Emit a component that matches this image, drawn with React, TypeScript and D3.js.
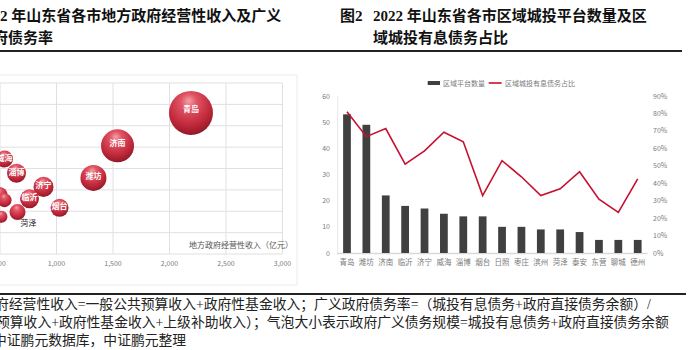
import React, { useEffect } from "react";
import * as d3 from "d3";

// ---------- Left chart data (bubble) ----------
const bubbleCities = ["青岛", "济南", "潍坊", "淄博", "威海", "济宁", "临沂", "烟台", "菏泽", "东营", "日照", "泰安"];
const bubbleRevenue = [2190, 1540, 1327, 646, 540, 885, 761, 1027, 655, 540, 496, 513];
const bubbleDebtRate = [330, 253, 178, 189, 222, 157, 129, 108, 98, 126, 138, 87];
const bubbleDebtScale = [7000, 3940, 2440, 1300, 1045, 1450, 1300, 1170, 930, 710, 930, 520];
const bubbleLabelInside = [true, true, true, true, true, true, true, true, false, false, false, false];
const bubbleLabelBelow = [false, false, false, false, false, false, false, false, true, false, false, false];
const xTicksLeft = [0, 500, 1000, 1500, 2000, 2500, 3000];
const yTicksLeft = [0, 50, 100, 150, 200, 250, 300, 350, 400];

// ---------- Right chart data (bar + line) ----------
const barCities = ["青岛", "潍坊", "济南", "临沂", "济宁", "威海", "淄博", "烟台", "日照", "枣庄", "滨州", "菏泽", "泰安", "东营", "聊城", "德州"];
const platformCount = [53, 49, 22, 18, 17, 15, 14, 14, 10, 10, 9, 9, 8, 5, 5, 5];
const debtShare = [0.81, 0.667, 0.713, 0.509, 0.585, 0.692, 0.638, 0.329, 0.529, 0.437, 0.329, 0.368, 0.466, 0.308, 0.233, 0.425];
const yTicksRightCount = [0, 10, 20, 30, 40, 50, 60];
const yTicksRightPct = [0, 0.1, 0.2, 0.3, 0.4, 0.5, 0.6, 0.7, 0.8, 0.9];

const titleLeft1 = "2 年山东省各市地方政府经营性收入及广义";
const titleLeft2 = "政府债务率";
const titleRightNo = "图2";
const titleRight1 = "2022 年山东省各市区域城投平台数量及区";
const titleRight2 = "域城投有息债务占比";
const noteLines = [
  "府经营性收入=一般公共预算收入+政府性基金收入；广义政府债务率=（城投有息债务+政府直接债务余额）/",
  "预算收入+政府性基金收入+上级补助收入）；气泡大小表示政府广义债务规模=城投有息债务+政府直接债务余额",
  "中证鹏元数据库，中证鹏元整理",
];
const legendLabels = ["区域平台数量", "区域城投有息债务占比"];
const xAxisTitleLeft = "地方政府经营性收入（亿元）";

const W = 700;
const H = 350;
const sans = "'Noto Sans CJK SC', 'Noto Sans', sans-serif";
const serif = "'Liberation Serif', 'Noto Sans CJK SC', serif";

export default function App() {
  useEffect(() => {
    document.body.style.margin = "0";
  }, []);

  // Left scales
  const xL = d3.scaleLinear().domain([0, 3000]).range([-56.5, 282.5]);
  const yL = d3.scaleLinear().domain([0, 400]).range([254, 83]);
  const rL = d3.scaleSqrt().domain([0, 7000]).range([0, 22]);

  // Right scales
  const xR = d3.scaleBand<string>().domain(barCities).range([337.3, 647.4]).paddingInner(0.6).paddingOuter(0.3);
  const yR = d3.scaleLinear().domain([0, 60]).range([253, 96]);
  const yR2 = d3.scaleLinear().domain([0, 0.9]).range([253, 96]);
  const bw = xR.bandwidth();

  const linePath = d3
    .line<number>()
    .x((_, i) => (xR(barCities[i]) as number) + bw / 2)
    .y((v) => yR2(v))(debtShare) as string;

  const order = d3.range(bubbleCities.length).sort((a, b) => bubbleDebtScale[b] - bubbleDebtScale[a]);

  return (
    <svg width={W} height={H} viewBox={`0 0 ${W} ${H}`} style={{ display: "block", background: "#fff" }}>
      <defs>
        <radialGradient id="sphere" cx="0.45" cy="0.32" r="0.72" fx="0.45" fy="0.22">
          <stop offset="0%" stopColor="#f4a0a8" />
          <stop offset="25%" stopColor="#e05564" />
          <stop offset="65%" stopColor="#c42c3e" />
          <stop offset="90%" stopColor="#9c1b2c" />
          <stop offset="100%" stopColor="#7e1422" />
        </radialGradient>
      </defs>

      {/* Titles */}
      <g fontFamily={serif} fontWeight="bold" fontSize={15} fill="#111">
        <text x={0} y={21}>{titleLeft1}</text>
        <text x={-22} y={43}>{titleLeft2}</text>
        <text x={340} y={21}>{titleRightNo}</text>
        <text x={373} y={21}>{titleRight1}</text>
        <text x={373} y={43}>{titleRight2}</text>
      </g>
      <rect x={0} y={50} width={682} height={2} fill="#222" />

      {/* Left chart frame */}
      <rect x={-10} y={75} width={307} height={210} fill="none" stroke="#ececec" strokeWidth={1} />
      {/* Left gridlines */}
      <g stroke="#e0e0e0" strokeWidth={1}>
        {xTicksLeft.map((t) => (
          <line key={"vx" + t} x1={xL(t)} x2={xL(t)} y1={yL(400)} y2={yL(0)} />
        ))}
        {yTicksLeft.map((t) => (
          <line key={"hy" + t} x1={xL(0)} x2={xL(3000)} y1={yL(t)} y2={yL(t)} />
        ))}
      </g>
      <g fontFamily={sans} fontSize={7} fill="#7a7a7a" textAnchor="middle">
        {xTicksLeft.filter((t) => t > 0).map((t) => (
          <text key={"xl" + t} x={xL(t)} y={265.5}>{d3.format(",")(t)}</text>
        ))}
      </g>
      <text x={293} y={247.5} fontFamily={sans} fontSize={8} fill="#555" textAnchor="end">{xAxisTitleLeft}</text>

      {/* Bubbles */}
      <g>
        {order.map((i) => {
          const cx = xL(bubbleRevenue[i]);
          const cy = yL(bubbleDebtRate[i]);
          const r = rL(bubbleDebtScale[i]);
          return (
            <g key={"b" + i}>
              <circle cx={cx} cy={cy} r={r} fill="url(#sphere)" />
              {bubbleLabelInside[i] && (
                <text x={cx} y={cy - r * 0.15 + 2.8} fontFamily={sans} fontSize={8} fontWeight="bold" fill="#fff" textAnchor="middle">
                  {bubbleCities[i]}
                </text>
              )}
              {bubbleLabelBelow[i] && (
                <text x={cx + 11} y={cy + r + 6} fontFamily={sans} fontSize={8} fill="#222" textAnchor="middle">
                  {bubbleCities[i]}
                </text>
              )}
            </g>
          );
        })}
      </g>

      {/* Right chart */}
      <line x1={337.7} x2={337.7} y1={yR(60)} y2={yR(0)} stroke="#e8e8e8" strokeWidth={1} />
      <line x1={337.3} x2={647.4} y1={yR(0) + 0.5} y2={yR(0) + 0.5} stroke="#d9d9d9" strokeWidth={1.5} />
      <g fontFamily={sans} fontSize={7} fill="#7a7a7a">
        {yTicksRightCount.map((t) => (
          <text key={"yr" + t} x={330} y={yR(t) + 2.5} textAnchor="end">{t}</text>
        ))}
        {yTicksRightPct.map((t) => (
          <text key={"yp" + t} x={653} y={yR2(t) + 2.5} textAnchor="start">{d3.format(".0%")(t)}</text>
        ))}
        {barCities.map((c) => (
          <text key={"xc" + c} x={(xR(c) as number) + bw / 2} y={264.5} textAnchor="middle" fontSize={7.5}>{c}</text>
        ))}
      </g>
      <g fill="#404040">
        {barCities.map((c, i) => (
          <rect key={"bar" + c} x={xR(c) as number} y={yR(platformCount[i])} width={bw} height={yR(0) - yR(platformCount[i])} />
        ))}
      </g>
      <path d={linePath} fill="none" stroke="#c8102e" strokeWidth={1.6} strokeLinejoin="miter" />

      {/* Legend */}
      <rect x={427.7} y={81} width={12.3} height={4} fill="#404040" />
      <text x={443} y={85.5} fontFamily={sans} fontSize={7} fill="#7a7a7a">{legendLabels[0]}</text>
      <line x1={488.7} x2={501.7} y1={83} y2={83} stroke="#c8102e" strokeWidth={1.6} />
      <text x={505} y={85.5} fontFamily={sans} fontSize={7} fill="#7a7a7a">{legendLabels[1]}</text>

      {/* Notes */}
      <rect x={0} y={293} width={686} height={2} fill="#222" />
      <g fontFamily={serif} fontSize={13.8} fill="#222">
        <text x={-5} y={309}>{noteLines[0]}</text>
        <text x={-4} y={327}>{noteLines[1]}</text>
        <text x={-7} y={345}>{noteLines[2]}</text>
      </g>
    </svg>
  );
}
